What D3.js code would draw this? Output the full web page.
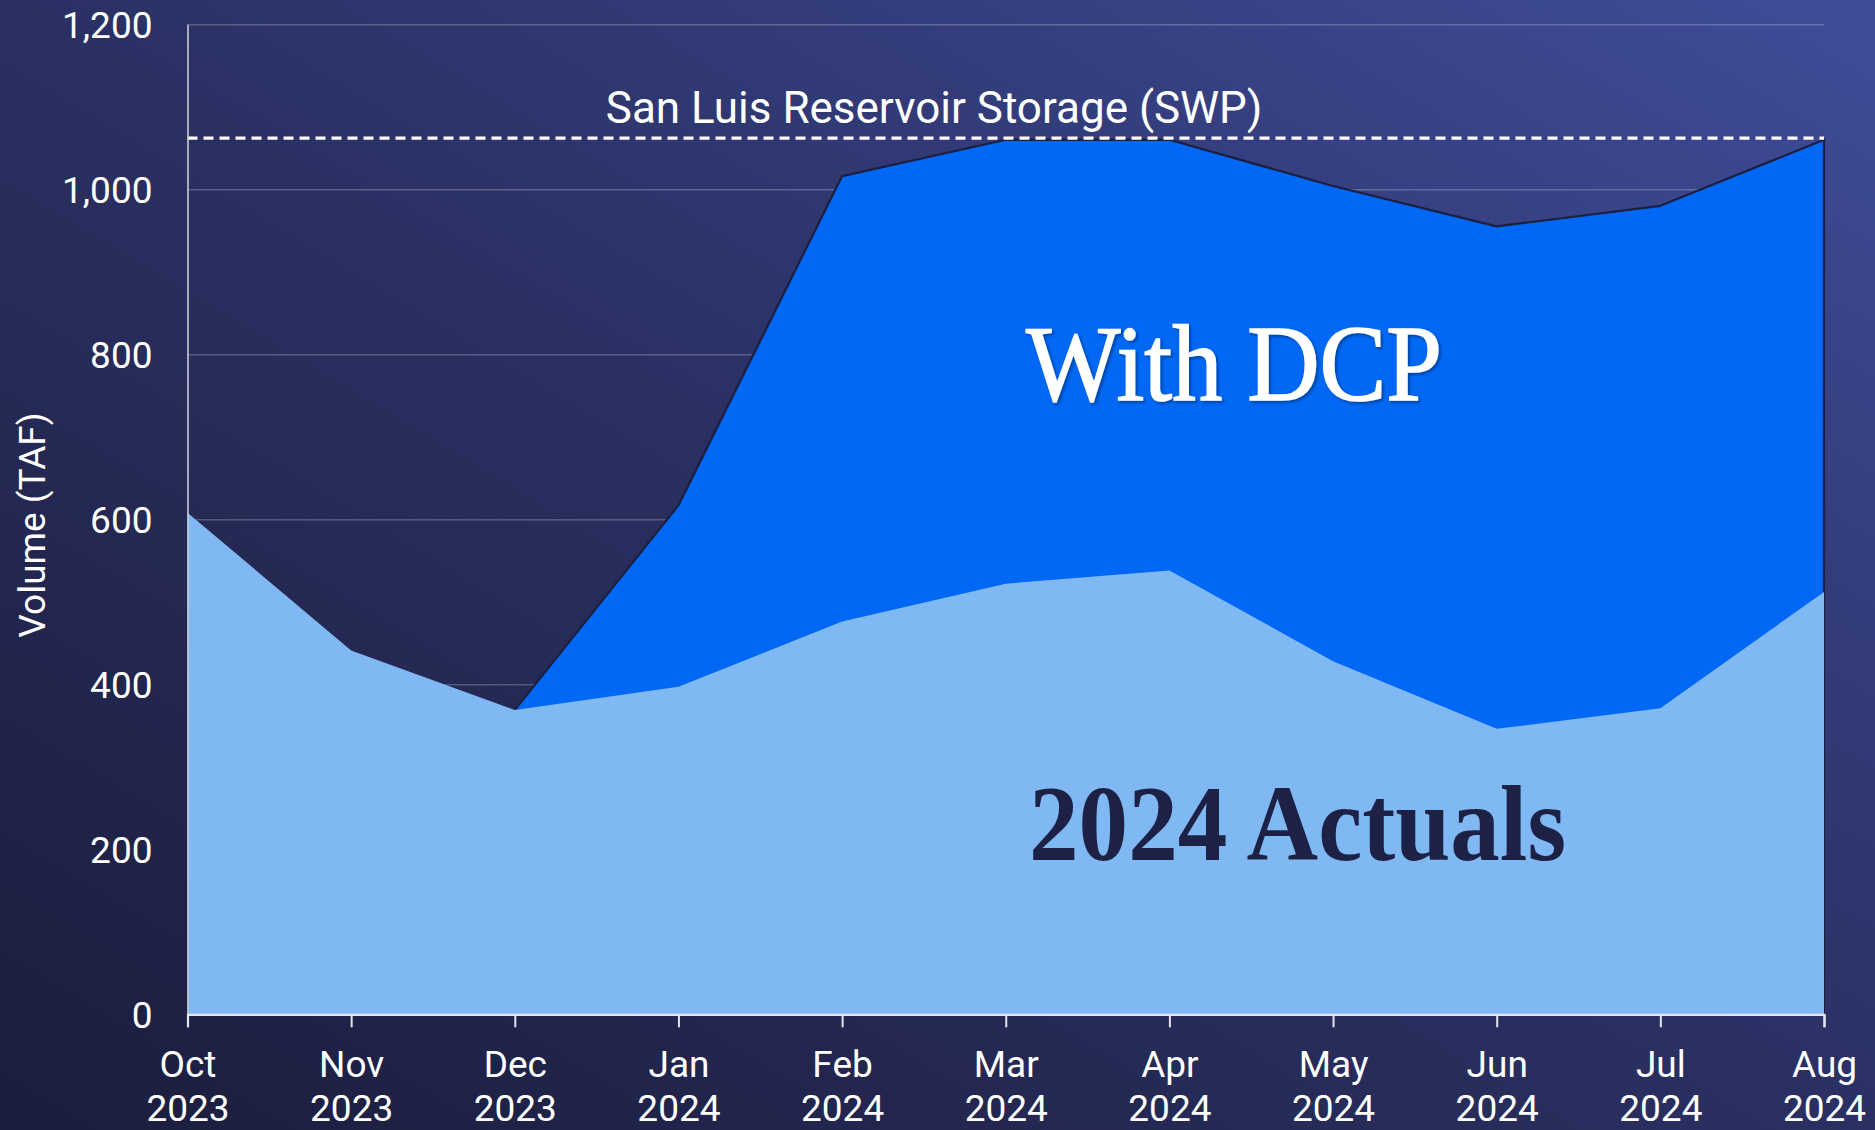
<!DOCTYPE html>
<html>
<head>
<meta charset="utf-8">
<script src="https://cdn.jsdelivr.net/npm/d3@7"></script>
<style>
  html, body { margin: 0; padding: 0; background: #1c1e3e; }
  svg { display: block; }
  .tick text { font-family: Roboto, sans-serif; fill: #ffffff; }
</style>
</head>
<body>
<svg id="chart" width="1875" height="1130"></svg>
<script>
// San Luis Reservoir storage, TAF
const months = ['Oct', 'Nov', 'Dec', 'Jan', 'Feb', 'Mar', 'Apr', 'May', 'Jun', 'Jul', 'Aug'];
const years = ['2023', '2023', '2023', '2024', '2024', '2024', '2024', '2024', '2024', '2024', '2024'];
const actuals = [608, 441, 369, 397, 476, 522, 538, 428, 346, 371, 512];
const withDcp = [null, null, 369, 617, 1016, 1060, 1060, 1004, 955, 980, 1060];
const yTicks = [0, 200, 400, 600, 800, 1000, 1200];
const swpCapacity = 1062;

const svg = d3.select('#chart');
const W = 1875, H = 1130;
const margin = { left: 187.5, right: 51, top: 24.3, bottom: 115.7 };
const width = W - margin.left - margin.right;
const height = H - margin.top - margin.bottom;

// background gradient
const defs = svg.append('defs');
const grad = defs.append('linearGradient')
  .attr('id', 'bg')
  .attr('x1', 0).attr('y1', 1).attr('x2', 1).attr('y2', 0);
grad.append('stop').attr('offset', 0).attr('stop-color', '#1b1d3c');
grad.append('stop').attr('offset', 0.5).attr('stop-color', '#2a3062');
grad.append('stop').attr('offset', 1).attr('stop-color', '#3f4c99');

const shadow = defs.append('filter').attr('id', 'shadow')
  .attr('x', '-10%').attr('y', '-10%').attr('width', '120%').attr('height', '130%');
shadow.append('feDropShadow')
  .attr('dx', 2).attr('dy', 2).attr('stdDeviation', 1.5)
  .attr('flood-color', '#000').attr('flood-opacity', 0.35);

svg.append('rect').attr('width', W).attr('height', H).attr('fill', 'url(#bg)');

const chart = svg.append('g')
  .attr('transform', `translate(${margin.left}, ${margin.top})`);

const xScale = d3.scalePoint()
  .domain(d3.range(months.length))
  .range([0, width]);

const yScale = d3.scaleLinear()
  .domain([0, 1200])
  .range([height, 0]);

// grid
chart.append('g')
  .attr('class', 'grid')
  .call(d3.axisLeft(yScale).tickValues(yTicks).tickSize(-width).tickFormat(''))
  .call(g => g.select('.domain').remove())
  .call(g => g.selectAll('line')
    .attr('stroke', 'rgba(255,255,255,0.22)')
    .attr('stroke-width', 1.6));

// areas
const dcpIdx = d3.range(months.length).filter(i => withDcp[i] != null);

const dcpArea = d3.area()
  .x(i => xScale(i))
  .y0(yScale(0))
  .y1(i => yScale(withDcp[i]));

chart.append('path')
  .datum(dcpIdx)
  .attr('d', dcpArea)
  .attr('fill', '#0068f5')
  .attr('stroke', '#1c1f40')
  .attr('stroke-width', 2.2)
  .attr('stroke-linejoin', 'round');

const actualArea = d3.area()
  .x(i => xScale(i))
  .y0(yScale(0))
  .y1(i => yScale(actuals[i]));

chart.append('path')
  .datum(d3.range(months.length))
  .attr('d', actualArea)
  .attr('fill', '#7fb8f3');

// SWP storage line
chart.append('line')
  .attr('x1', 0)
  .attr('x2', width)
  .attr('y1', yScale(swpCapacity))
  .attr('y2', yScale(swpCapacity))
  .attr('stroke', '#ffffff')
  .attr('stroke-width', 3.4)
  .attr('stroke-dasharray', '10 6');

svg.append('text')
  .attr('x', 934)
  .attr('y', 123)
  .attr('text-anchor', 'middle')
  .attr('font-family', 'Roboto, sans-serif')
  .attr('font-size', 44)
  .attr('fill', '#ffffff')
  .text('San Luis Reservoir Storage (SWP)');

// y axis
chart.append('g')
  .call(d3.axisLeft(yScale).tickValues(yTicks).tickSize(0).tickPadding(35).tickFormat(d3.format(',')))
  .call(g => g.select('.domain')
    .attr('stroke', '#c8cad6')
    .attr('stroke-width', 1.6))
  .call(g => g.selectAll('text')
    .attr('font-size', 37)
    .attr('dy', '0.36em'));

// x axis
const xAxis = chart.append('g')
  .attr('transform', `translate(0, ${height})`)
  .call(d3.axisBottom(xScale).tickSize(13).tickFormat(''))
  .call(g => g.select('.domain')
    .attr('stroke', '#e4e6ee')
    .attr('stroke-width', 2.2))
  .call(g => g.selectAll('.tick line')
    .attr('stroke', '#e4e6ee')
    .attr('stroke-width', 2));

xAxis.selectAll('.tick text').remove();
xAxis.selectAll('.tick').append('text')
  .attr('text-anchor', 'middle')
  .attr('font-size', 37)
  .each(function (i) {
    const t = d3.select(this);
    t.append('tspan').attr('x', 0).attr('y', 63).text(months[i]);
    t.append('tspan').attr('x', 0).attr('y', 107).text(years[i]);
  });

// axis title
svg.append('text')
  .attr('transform', 'translate(45, 525) rotate(-90)')
  .attr('text-anchor', 'middle')
  .attr('font-family', 'Roboto, sans-serif')
  .attr('font-size', 37)
  .attr('fill', '#ffffff')
  .text('Volume (TAF)');

// in-chart labels
svg.append('text')
  .attr('x', 1026)
  .attr('y', 400)
  .attr('font-family', '"Liberation Serif", serif')
  .attr('font-size', 108)
  .attr('fill', '#ffffff')
  .attr('stroke', '#ffffff')
  .attr('stroke-width', 1.6)
  .attr('textLength', 416)
  .attr('lengthAdjust', 'spacingAndGlyphs')
  .attr('filter', 'url(#shadow)')
  .text('With DCP');

svg.append('text')
  .attr('x', 1029)
  .attr('y', 860)
  .attr('font-family', '"Liberation Serif", serif')
  .attr('font-weight', 'bold')
  .attr('font-size', 107)
  .attr('fill', '#1d2145')
  .attr('textLength', 537)
  .attr('lengthAdjust', 'spacingAndGlyphs')
  .text('2024 Actuals');
</script>
</body>
</html>
